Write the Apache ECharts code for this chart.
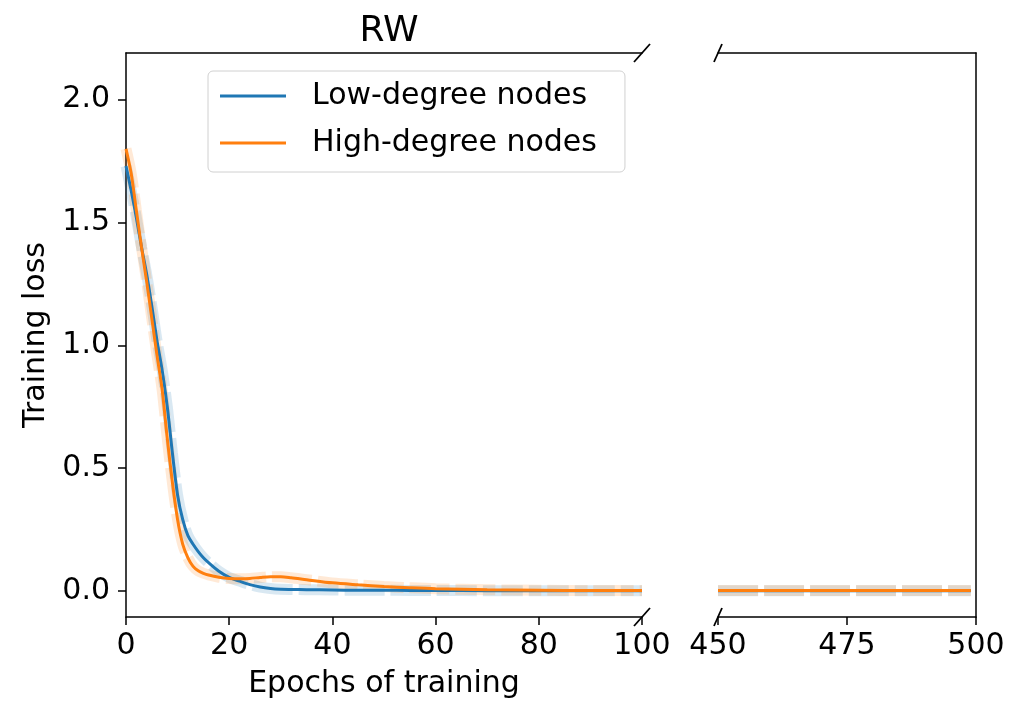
<!DOCTYPE html>
<html>
<head>
<meta charset="utf-8">
<script src="https://cdn.jsdelivr.net/npm/echarts@6/dist/echarts.min.js"></script>
<style>
html, body { margin: 0; padding: 0; background: #fff; }
#chart-box { width: 1013px; height: 702px; }
</style>
</head>
<body>
<div id="chart-box"></div>
<script>
// epochs 0..100 (left panel)
var epochsLeft = [0, 1, 2, 3, 4, 5, 6, 7, 8, 9, 10, 11, 12, 13, 14, 15, 16, 18, 20, 22, 24, 26, 28, 30, 32, 35, 40, 45, 50, 55, 60, 70, 80, 90, 100];
var lowLoss = [1.73, 1.63, 1.52, 1.40, 1.29, 1.16, 1.02, 0.90, 0.75, 0.56, 0.39, 0.29, 0.225, 0.19, 0.16, 0.135, 0.115, 0.08, 0.055, 0.040, 0.026, 0.016, 0.010, 0.007, 0.006, 0.005, 0.004, 0.003, 0.003, 0.002, 0.002, 0.001, 0.001, 0.001, 0.001];
var highLoss = [1.80, 1.70, 1.55, 1.40, 1.26, 1.11, 0.96, 0.82, 0.62, 0.44, 0.29, 0.19, 0.135, 0.10, 0.082, 0.072, 0.065, 0.056, 0.051, 0.050, 0.051, 0.055, 0.058, 0.058, 0.054, 0.046, 0.033, 0.025, 0.018, 0.013, 0.009, 0.005, 0.003, 0.002, 0.002];
// epochs 450..500 (right panel)
var epochsRight = [450, 460, 470, 480, 490, 499];
var lowLossTail = [0.001, 0.001, 0.001, 0.001, 0.001, 0.001];
var highLossTail = [0.002, 0.002, 0.002, 0.002, 0.002, 0.002];
var yTicks = [0, 0.5, 1, 1.5, 2];
var seriesNames = ['Low-degree nodes', 'High-degree nodes'];

var BLUE = '#1f77b4', ORANGE = '#ff7f0e';
var FONT = 'DejaVu Sans';

function pairs(xs, ys) {
    return xs.map(function(x, i) { return [x, ys[i]]; });
}

function band(name, xs, ys, color, grid) {
    return {
        name: name + ' band', type: 'line', xAxisIndex: grid * 2, yAxisIndex: grid,
        data: pairs(xs, ys), symbol: 'none', smooth: 0.3, silent: true,
        lineStyle: { color: color, width: 11, opacity: 0.17, type: [40, 6], cap: 'butt' },
        z: 1
    };
}

function main(name, xs, ys, color, grid) {
    return {
        name: name, type: 'line', xAxisIndex: grid * 2, yAxisIndex: grid,
        data: pairs(xs, ys), symbol: 'none', smooth: 0.3,
        lineStyle: { color: color, width: 3 }, itemStyle: { color: color },
        z: 3
    };
}

var axisLine = { show: true, onZero: false, lineStyle: { color: '#000', width: 1.5 } };
var tick = { show: true, inside: false, length: 8, lineStyle: { color: '#000', width: 1.5 } };
var label = { color: '#000', fontSize: 30, fontFamily: FONT, showMinLabel: true, showMaxLabel: true, hideOverlap: false };
var spineOnly = { axisLine: axisLine, axisTick: { show: false }, axisLabel: { show: false }, splitLine: { show: false } };

var yMin = -0.106, yMax = 2.19;

var option = {
    animation: false,
    title: {
        text: 'RW', left: 384, top: 9, textAlign: 'center',
        textStyle: { color: '#000', fontSize: 36, fontWeight: 'normal', fontFamily: FONT }
    },
    legend: {
        orient: 'vertical', left: 208, top: 71,
        data: seriesNames.map(function(n) { return { name: n, icon: 'rect' }; }),
        itemWidth: 66, itemHeight: 3, itemGap: 17,
        padding: [10, 28, 14, 12],
        borderColor: '#d0d0d0', borderWidth: 1, borderRadius: 5,
        backgroundColor: 'rgba(255,255,255,0.8)',
        textStyle: { color: '#000', fontSize: 30, fontFamily: FONT, lineHeight: 30, padding: [0, 0, 0, 21] }
    },
    grid: [
        { left: 126, top: 53, width: 516, height: 564, outerBoundsMode: 'none', containLabel: false },
        { left: 718, top: 53, width: 258, height: 564, outerBoundsMode: 'none', containLabel: false }
    ],
    xAxis: [
        {
            gridIndex: 0, type: 'value', position: 'bottom', min: 0, max: 100, interval: 20,
            axisLine: axisLine, axisTick: tick, axisLabel: Object.assign({ margin: 14 }, label), splitLine: { show: false },
            name: 'Epochs of training', nameLocation: 'middle', nameGap: 52,
            nameTextStyle: { color: '#000', fontSize: 30, fontFamily: FONT }
        },
        Object.assign({ gridIndex: 0, type: 'value', position: 'top', min: 0, max: 100 }, spineOnly),
        {
            gridIndex: 1, type: 'value', position: 'bottom', min: 450, max: 500, interval: 25,
            axisLine: axisLine, axisTick: tick, axisLabel: Object.assign({ margin: 14 }, label), splitLine: { show: false }
        },
        Object.assign({ gridIndex: 1, type: 'value', position: 'top', min: 450, max: 500 }, spineOnly)
    ],
    yAxis: [
        {
            gridIndex: 0, type: 'value', position: 'left', min: yMin, max: yMax,
            axisLine: axisLine,
            axisTick: Object.assign({ customValues: yTicks }, tick),
            axisLabel: Object.assign({ customValues: yTicks, margin: 16, formatter: function(v) { return v.toFixed(1); } }, label),
            splitLine: { show: false },
            name: 'Training loss', nameLocation: 'middle', nameGap: 74, nameRotate: 90,
            nameTextStyle: { color: '#000', fontSize: 30, fontFamily: FONT }
        },
        Object.assign({ gridIndex: 1, type: 'value', position: 'right', min: yMin, max: yMax }, spineOnly)
    ],
    series: [
        band(seriesNames[0], epochsLeft, lowLoss, BLUE, 0),
        band(seriesNames[1], epochsLeft, highLoss, ORANGE, 0),
        main(seriesNames[0], epochsLeft, lowLoss, BLUE, 0),
        main(seriesNames[1], epochsLeft, highLoss, ORANGE, 0),
        band(seriesNames[0], epochsRight, lowLossTail, BLUE, 1),
        band(seriesNames[1], epochsRight, highLossTail, ORANGE, 1),
        main(seriesNames[0], epochsRight, lowLossTail, BLUE, 1),
        main(seriesNames[1], epochsRight, highLossTail, ORANGE, 1)
    ]
};

var chart = echarts.init(document.getElementById('chart-box'));
chart.setOption(option);

// break marks on the cut axes, placed from the grid corners
function breakMarks() {
    var els = [];
    var corners = [
        { grid: 0, x: 100, dx: 8, dy: 9 },
        { grid: 1, x: 450, dx: 4, dy: 9 }
    ];
    corners.forEach(function(c) {
        [yMax, yMin].forEach(function(yv) {
            var p = chart.convertToPixel({ gridIndex: c.grid }, [c.x, yv]);
            els.push({
                type: 'line', silent: true, z: 10,
                shape: { x1: p[0] - c.dx, y1: p[1] + c.dy, x2: p[0] + c.dx, y2: p[1] - c.dy },
                style: { stroke: '#000', lineWidth: 1.8 }
            });
        });
    });
    return els;
}
chart.setOption({ graphic: breakMarks() });
</script>
</body>
</html>
